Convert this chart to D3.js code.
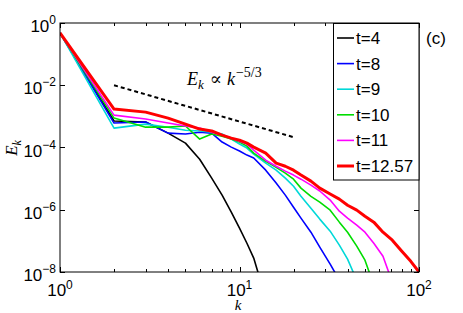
<!DOCTYPE html>
<html><head><meta charset="utf-8">
<script src="https://cdn.jsdelivr.net/npm/d3@7"></script>
<style>
html,body{margin:0;padding:0;background:#fff;}
svg{display:block;}
</style></head>
<body>
<svg id="chart" width="463" height="313"></svg>
<script>
// ---- data ----
const kGrid = [1,2,3,4,5,6,7,8,9,10,11,12,14,16,18,20,22,25,28,32,36,40,45,50,56,63,71,80,90,100];
const seriesNames = ["t=4","t=8","t=9","t=10","t=11","t=12.57"];
const seriesColors = ["#000000","#0000ff","#00d8d8","#00dd00","#ff00ff","#ff0000"];
const E_t4  = [0.48,7.1e-4,6.6e-4,2.9e-4,1.38e-4,4.2e-5,1.04e-5,2.95e-6,8.4e-7,2.56e-7,8.4e-8,2.8e-8,1.44e-9,null,null,null,null,null,null,null,null,null,null,null,null,null,null,null,null,null];
const E_t8  = [0.48,6.1e-4,6.6e-4,2.9e-4,2.7e-4,3.1e-4,2.9e-4,1.5e-4,1.03e-4,7.7e-5,5.7e-5,4.6e-5,1.87e-5,7.2e-6,2.95e-6,1.2e-6,5.4e-7,1.9e-7,6.3e-8,1.8e-8,5.4e-9,null,null,null,null,null,null,null,null,null];
const E_t9  = [0.48,4.2e-4,5.65e-4,4.5e-4,3.6e-4,3.4e-4,3.1e-4,2.7e-4,1.86e-4,1.29e-4,9.6e-5,6.1e-5,3.15e-5,1.87e-5,1.04e-5,5.7e-6,2.7e-6,1.12e-6,5.0e-7,2.05e-7,7.3e-8,2.6e-8,5.4e-9,null,null,null,null,null,null,null];
const E_t10 = [0.48,8.8e-4,4.5e-4,4.5e-4,4.9e-4,1.86e-4,2.7e-4,2.3e-4,1.86e-4,1.49e-4,1.11e-4,6.6e-5,3.6e-5,2.3e-5,1.5e-5,9.6e-6,4.95e-6,2.7e-6,1.75e-6,9.7e-7,4.0e-7,1.9e-7,6.8e-8,2.4e-8,3.8e-9,null,null,null,null,null];
const E_t11 = [0.48,1.1e-3,8.2e-4,6.1e-4,4.9e-4,4.2e-4,3.1e-4,2.5e-4,2.0e-4,1.6e-4,1.29e-4,8.2e-5,3.9e-5,2.5e-5,1.74e-5,1.3e-5,9.6e-6,6.2e-6,4.0e-6,2.04e-6,9.0e-7,5.4e-7,3.2e-7,1.9e-7,8.4e-8,3.2e-8,4.7e-9,null,null,null];
const E_t1257 = [0.48,1.72e-3,1.37e-3,8.8e-4,5.65e-4,3.9e-4,3.4e-4,2.5e-4,2.0e-4,1.73e-4,1.38e-4,1.03e-4,6.6e-5,3.15e-5,2.5e-5,1.87e-5,1.3e-5,8.3e-6,4.95e-6,3.2e-6,2.2e-6,1.4e-6,9.7e-7,6.2e-7,4.0e-7,1.9e-7,1.05e-7,4.7e-8,2.2e-8,1.0e-8];
const seriesValues = [E_t4,E_t8,E_t9,E_t10,E_t11,E_t1257];
const refK = [2, 20];
const refE = [1e-2, 2.15e-4];
const xTickVals = [1,10,100];
const xTickExp = ["0","1","2"];
const xMinorTicks = [2,3,4,5,6,7,8,9,20,30,40,50,60,70,80,90];
const yTickVals = [1,1e-2,1e-4,1e-6,1e-8];
const yTickExp = ["0","\u22122","\u22124","\u22126","\u22128"];

// ---- layout ----
const sans = '"Liberation Sans",Arial,Helvetica,sans-serif';
const serif = '"Liberation Serif","DejaVu Serif",serif';
const L=60, R=419, T=23, B=272;
const svg = d3.select("#chart");
const x = d3.scaleLog().domain([1,100]).range([L,R]);
const y = d3.scaleLog().domain([1e-8,1]).range([B,T]);

svg.append("defs").append("clipPath").attr("id","clip")
  .append("rect").attr("x",L).attr("y",T).attr("width",R-L).attr("height",B-T);

const plot = svg.append("g").attr("clip-path","url(#clip)");
const line = d3.line().defined(d=>d[1]!=null).x(d=>x(d[0])).y(d=>y(d[1]));

seriesValues.forEach((vals,i)=>{
  plot.append("path")
    .datum(kGrid.map((k,j)=>[k,vals[j]]))
    .attr("d",line)
    .attr("fill","none")
    .attr("stroke",seriesColors[i])
    .attr("stroke-width", i===5?3:1.6)
    .attr("stroke-linejoin","round");
});

// reference -5/3 line
plot.append("path")
  .datum(refK.map((k,j)=>[k,refE[j]]))
  .attr("d",line).attr("fill","none").attr("stroke","#000")
  .attr("stroke-width",2).attr("stroke-dasharray","4,3");

// frame
svg.append("rect").attr("x",L).attr("y",T).attr("width",R-L).attr("height",B-T)
  .attr("fill","none").attr("stroke","#000").attr("stroke-width",1);

// ticks (inward, both sides)
const tg = svg.append("g").attr("stroke","#000").attr("stroke-width",1);
xTickVals.concat(xMinorTicks).forEach(v=>{
  const len = xTickVals.includes(v)?5:3;
  const px = Math.round(x(v))+0.5;
  tg.append("line").attr("x1",px).attr("x2",px).attr("y1",B).attr("y2",B-len);
  tg.append("line").attr("x1",px).attr("x2",px).attr("y1",T).attr("y2",T+len);
});
yTickVals.forEach(v=>{
  const py = Math.round(y(v))+0.5;
  tg.append("line").attr("x1",L).attr("x2",L+5).attr("y1",py).attr("y2",py);
  tg.append("line").attr("x1",R).attr("x2",R-5).attr("y1",py).attr("y2",py);
});

// tick labels
xTickVals.forEach((v,i)=>{
  const t = svg.append("text").attr("x",x(v)).attr("y",296)
    .attr("text-anchor","middle").style("font-family",sans).style("font-size","17px").attr("fill","#000");
  t.append("tspan").text("10");
  t.append("tspan").style("font-size","12px").attr("dy",-7).text(xTickExp[i]);
});
yTickVals.forEach((v,i)=>{
  const t = svg.append("text").attr("x",56).attr("y",y(v)+9)
    .attr("text-anchor","end").style("font-family",sans).style("font-size","17px").attr("fill","#000");
  t.append("tspan").text("10");
  t.append("tspan").style("font-size","12px").attr("dy",-8).text(yTickExp[i]);
});

// axis labels
svg.append("text").attr("x",238).attr("y",310).attr("text-anchor","middle")
  .style("font-family",serif).style("font-style","italic").style("font-size","15px").text("k");
const yl = svg.append("text").attr("transform","translate(17,148) rotate(-90)")
  .attr("text-anchor","middle").style("font-family",serif).style("font-size","17px");
yl.append("tspan").style("font-style","italic").text("E");
yl.append("tspan").style("font-style","italic").style("font-size","12px").attr("dy",4).text("k");

// annotation
const an = svg.append("text").attr("x",187).attr("y",85).style("font-family",serif).style("font-size","18px");
an.append("tspan").style("font-style","italic").text("E");
an.append("tspan").style("font-style","italic").style("font-size","13px").attr("dy",4).text("k");
an.append("tspan").attr("dy",-4).attr("dx",6).text("\u221d");
an.append("tspan").style("font-style","italic").attr("dx",5).text("k");
an.append("tspan").style("font-size","14px").attr("dy",-8).attr("dx",1).text("\u22125/3");

// legend
const lg = svg.append("g");
lg.append("rect").attr("x",333.5).attr("y",23.5).attr("width",85.5).attr("height",156.5)
  .attr("fill","#fff").attr("stroke","#000").attr("stroke-width",1);
seriesNames.forEach((n,i)=>{
  const cy = 38 + i*25.6;
  lg.append("line").attr("x1",337).attr("x2",354).attr("y1",cy).attr("y2",cy)
    .attr("stroke",seriesColors[i]).attr("stroke-width",i===5?3:1.6);
  lg.append("text").attr("x",356).attr("y",cy+6).style("font-family",sans).style("font-size","17px").text(n);
});

// panel label
svg.append("text").attr("x",426).attr("y",44).style("font-family",sans).style("font-size","17px").text("(c)");
</script>
</body></html>
